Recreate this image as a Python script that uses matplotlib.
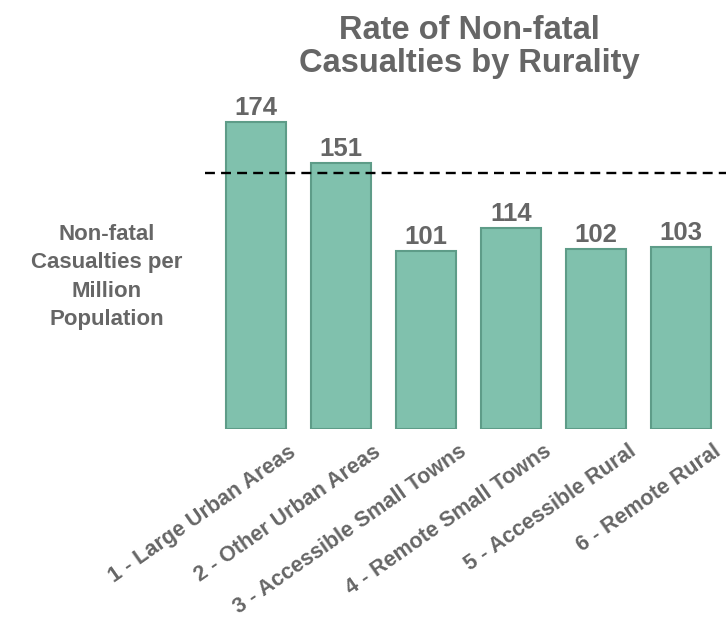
import numpy as np
import matplotlib.pyplot as plt
import matplotlib.transforms as mtransforms

plt.rcParams['font.family'] = ['Liberation Sans', 'DejaVu Sans']

categories = ["1 - Large Urban Areas", "2 - Other Urban Areas", "3 - Accessible Small Towns",
              "4 - Remote Small Towns", "5 - Accessible Rural", "6 - Remote Rural"]
rates = [174, 151, 101, 114, 102, 103]
national_rate = 145

grey = "#666666"

fig = plt.figure(figsize=(7.26, 6.23), dpi=100)
ax = fig.add_axes([205/726, 194/623, 521/726, 335/623])

x = np.arange(len(categories))
ax.bar(x, rates, width=0.71, color="#80c1ad", edgecolor="#5e9c88", linewidth=1.5)
ax.axhline(national_rate, color="black", lw=1.7, dashes=(4.2, 2.6))

for xi, r in zip(x, rates):
    ax.annotate(str(r), (xi, r), xytext=(0, 1.5), textcoords="offset points",
                ha="center", va="bottom", fontsize=18.5, fontweight="bold", color=grey)

ax.set_xlim(-0.6, 5.53)
ax.set_ylim(0, 190)
ax.tick_params(length=0)
ax.set_yticks([])
ax.set_xticks(x)
ax.set_xticklabels(categories, rotation=35, ha="right", va="center", rotation_mode="anchor",
                   fontsize=15.5, fontweight="bold", color=grey)
# push the slanted labels right/down so they sit under the bars
offset = mtransforms.ScaledTranslation(38/100, -16/100, fig.dpi_scale_trans)
for lab in ax.get_xticklabels():
    lab.set_transform(lab.get_transform() + offset)
for s in ax.spines.values():
    s.set_visible(False)

fig.text(107/726, 1 - 277/623, "Non-fatal\nCasualties per\nMillion\nPopulation",
         ha="center", va="center", fontsize=16, fontweight="bold", color=grey, linespacing=1.45)
fig.text(469/726, 1 - 47/623, "Rate of Non-fatal\nCasualties by Rurality",
         ha="center", va="center", fontsize=23.5, fontweight="bold", color=grey, linespacing=1.05)

fig.savefig("out.png", dpi=100)
